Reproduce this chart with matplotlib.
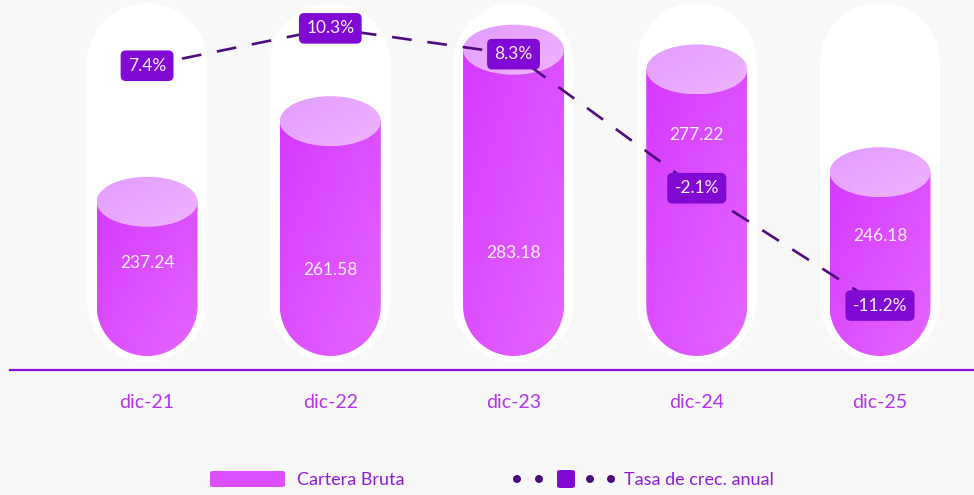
import numpy as np
import matplotlib
matplotlib.use("Agg")
import matplotlib.pyplot as plt
from matplotlib.patches import PathPatch, Ellipse, FancyBboxPatch
from matplotlib.path import Path
from matplotlib.colors import LinearSegmentedColormap

# ---------------- data ----------------
categories = ["dic-21", "dic-22", "dic-23", "dic-24", "dic-25"]
cartera_bruta = [237.24, 261.58, 283.18, 277.22, 246.18]
tasa_crec = [7.4, 10.3, 8.3, -2.1, -11.2]

# ---------------- layout / style ----------------
W, H, DPI = 974, 495, 100
BG = "#F8F8F8"
FONT = ["Lato", "DejaVu Sans"]
plt.rcParams["font.family"] = FONT

AX_LEFT_PX, AX_RIGHT_PX, AX_BASE_PX = 10, 974, 370
XLIM = (-0.748, 4.513)
YLIM = (186.4, 298.2)
Y2LIM = (-16.2, 12.5)

BAR_HALF_PX = 50.5
PILL_HALF_PX = 60
ELL_HALF_H_PX = 25
BAR_BOTTOM_PX = 356     # pixel row of bar bottom
PILL_TOP_PX, PILL_BOTTOM_PX = 3, 362
VALUE_LABEL_PX = [263, 270, 253, 135, 236]   # label rows inside each bar

fig = plt.figure(figsize=(W / DPI, H / DPI), dpi=DPI)
fig.patch.set_facecolor(BG)
ax = fig.add_axes([AX_LEFT_PX / W, (H - AX_BASE_PX) / H,
                   (AX_RIGHT_PX - AX_LEFT_PX) / W, AX_BASE_PX / H])
ax.set_facecolor(BG)

sx = (AX_RIGHT_PX - AX_LEFT_PX) / (XLIM[1] - XLIM[0])   # px per x unit
sy = AX_BASE_PX / (YLIM[1] - YLIM[0])                     # px per y unit


def row_to_y(row):
    return YLIM[1] - row / sy


def capsule(xc, hw, yb, yt, ry, n=60):
    t1 = np.linspace(0, np.pi, n)
    t2 = np.linspace(np.pi, 2 * np.pi, n)
    top = np.column_stack([xc + hw * np.cos(t1), (yt - ry) + ry * np.sin(t1)])
    bot = np.column_stack([xc + hw * np.cos(t2), (yb + ry) + ry * np.sin(t2)])
    verts = np.vstack([top, bot, top[:1]])
    codes = [Path.MOVETO] + [Path.LINETO] * (len(verts) - 2) + [Path.CLOSEPOLY]
    return Path(verts, codes)


def bar_body(xc, hw, yb, yt, ry, n=60):
    t = np.linspace(np.pi, 2 * np.pi, n)
    bot = np.column_stack([xc + hw * np.cos(t), (yb + ry) + ry * np.sin(t)])
    verts = np.vstack([[[xc - hw, yt]], bot, [[xc + hw, yt]], [[xc - hw, yt]]])
    codes = [Path.MOVETO] + [Path.LINETO] * (len(verts) - 2) + [Path.CLOSEPOLY]
    return Path(verts, codes)


body_cmap = LinearSegmentedColormap.from_list("body", ["#D43AFF", "#E565FF"])
top_cmap = LinearSegmentedColormap.from_list("top", ["#E29CFF", "#EFB4FF"])
gy, gx = np.mgrid[0:1:100j, 0:1:100j]
grad = (gx + gy) / 2.0  # top-left dark -> bottom-right light (origin upper)

x = np.arange(len(categories))
bar_hw = BAR_HALF_PX / sx
pill_hw = PILL_HALF_PX / sx
bar_bottom = row_to_y(BAR_BOTTOM_PX)
bar_ry = BAR_HALF_PX / sy
ell_h = 2 * ELL_HALF_H_PX / sy

for xi, val, lab_row in zip(x, cartera_bruta, VALUE_LABEL_PX):
    pill = PathPatch(capsule(xi, pill_hw, row_to_y(PILL_BOTTOM_PX), row_to_y(PILL_TOP_PX),
                             PILL_HALF_PX / sy), facecolor="white", edgecolor="none", zorder=1)
    ax.add_patch(pill)
    body = PathPatch(bar_body(xi, bar_hw, bar_bottom, val, bar_ry),
                     facecolor="none", edgecolor="none", zorder=2)
    ax.add_patch(body)
    im = ax.imshow(grad, cmap=body_cmap, extent=[xi - bar_hw, xi + bar_hw, bar_bottom, val],
                   aspect="auto", origin="upper", zorder=2, interpolation="bilinear")
    im.set_clip_path(body)
    ell = Ellipse((xi, val), 2 * bar_hw, ell_h, facecolor="none", edgecolor="none", zorder=3)
    ax.add_patch(ell)
    im2 = ax.imshow(grad, cmap=top_cmap,
                    extent=[xi - bar_hw, xi + bar_hw, val - ell_h / 2, val + ell_h / 2],
                    aspect="auto", origin="upper", zorder=3, interpolation="bilinear")
    im2.set_clip_path(ell)
    ax.text(xi, row_to_y(lab_row), f"{val:.2f}", ha="center", va="center",
            color="#FBEFFF", fontsize=12.5, zorder=4)

ax.set_xlim(*XLIM)
ax.set_ylim(*YLIM)
for s in ["top", "left", "right"]:
    ax.spines[s].set_visible(False)
ax.spines["bottom"].set_color("#8A0FD8")
ax.spines["bottom"].set_linewidth(1.6)
ax.set_yticks([])
ax.set_xticks(x)
ax.set_xticklabels(categories, fontsize=14, color="#B334EF")
ax.tick_params(axis="x", length=0, pad=17)

# growth line on secondary axis
ax2 = ax.twinx()
ax2.set_ylim(*Y2LIM)
ax2.set_xlim(*XLIM)
ax2.axis("off")
ax2.plot(x, tasa_crec, color="#4E0B80", lw=1.9, dashes=(7.5, 6), zorder=5)
for xi, g in zip(x, tasa_crec):
    ax2.text(xi, g, f"{g:.1f}%", ha="center", va="center", color="#F7EDFF", fontsize=12.5,
             zorder=6,
             bbox=dict(boxstyle="round,pad=0.42,rounding_size=0.3", facecolor="#8009D3",
                       edgecolor="none"))


# legend (figure pixel helpers)
def fx(px):
    return px / W


def fy(py):
    return 1 - py / H


leg_bar = FancyBboxPatch((fx(210), fy(487)), fx(285) - fx(210), fy(471) - fy(487),
                         boxstyle="round,pad=0,rounding_size=0.003",
                         transform=fig.transFigure, facecolor="#DD4EFF", edgecolor="none")
fig.patches.append(leg_bar)
fig.text(fx(297), fy(480), "Cartera Bruta", ha="left", va="center", fontsize=13,
         color="#8E1BD6")
for cx in [517, 539, 590, 611]:
    fig.patches.append(Ellipse((fx(cx), fy(479)), 8 / W, 8 / H, transform=fig.transFigure,
                               facecolor="#4E0B80", edgecolor="none"))
sq = FancyBboxPatch((fx(557), fy(488)), fx(575) - fx(557), fy(470) - fy(488),
                    boxstyle="round,pad=0,rounding_size=0.004", transform=fig.transFigure,
                    facecolor="#8009D3", edgecolor="none")
fig.patches.append(sq)
fig.text(fx(624), fy(480), "Tasa de crec. anual", ha="left", va="center", fontsize=13,
         color="#8E1BD6")

fig.savefig("out.png", dpi=DPI, facecolor=BG)
